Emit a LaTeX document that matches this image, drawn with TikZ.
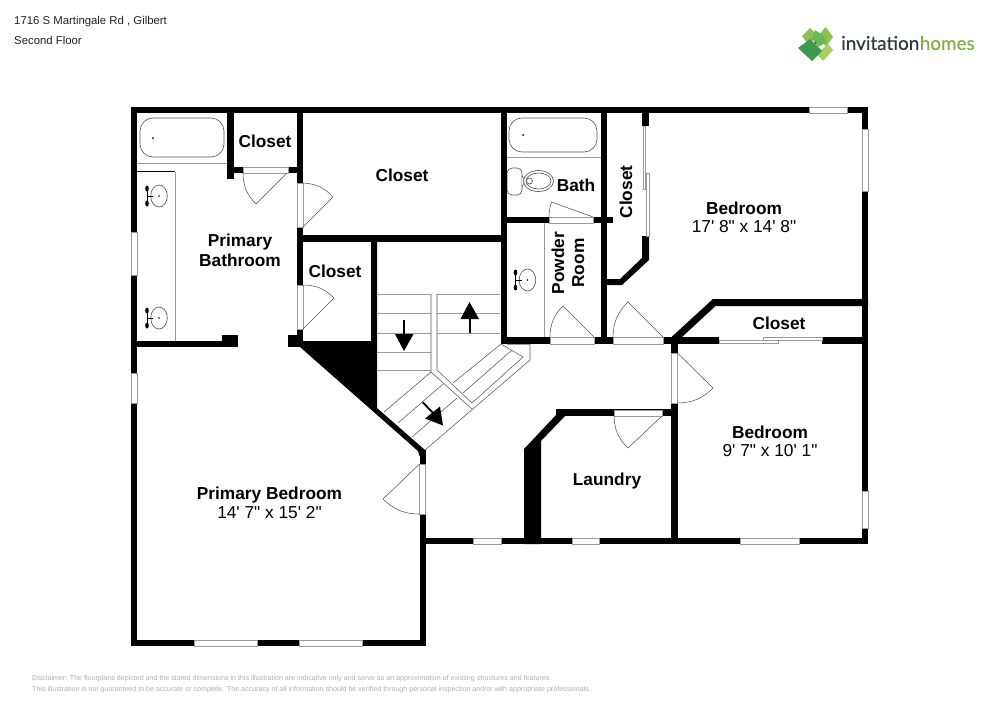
\documentclass[tikz,border=0pt]{standalone}
\usepackage{fontspec}
\newfontfamily\plainfont{Liberation Sans}
\setmainfont{Liberation Sans}
\newfontfamily\logofont[FakeBold=0.35]{Lato}
\definecolor{greyline}{HTML}{9A9A9A}
\definecolor{fineline}{HTML}{555555}
\definecolor{disc}{HTML}{ABAFBC}
\definecolor{headtxt}{HTML}{222222}
\definecolor{lg}{HTML}{8CC152}
\definecolor{lg2}{HTML}{A5CF5F}
\definecolor{mg}{HTML}{6DB65B}
\definecolor{dg}{HTML}{3C9A4A}
\definecolor{logogrey}{HTML}{2E3A36}
\definecolor{logogreen}{HTML}{7DB144}
\tikzset{
  wall/.style={fill=black,draw=none},
  opening/.style={fill=white,draw=greyline,line width=0.6pt},
  fine/.style={draw=fineline,line width=0.55pt},
  fixture/.style={draw=fineline,line width=0.65pt,fill=white},
  grey/.style={draw=greyline,line width=0.7pt},
  stair/.style={draw=fineline,line width=0.55pt},
  room/.style={font=\fontsize{17.3}{20}\selectfont\bfseries,align=center,text=black,inner sep=0pt},
  size/.style={font=\plainfont\fontsize{17.3}{20}\selectfont,align=center,text=black,inner sep=0pt},
  head/.style={font=\fontsize{11.35}{13}\selectfont,anchor=west,text=headtxt,inner sep=0pt},
  disclaimer/.style={font=\fontsize{7.1}{8}\selectfont,anchor=west,text=disc,inner sep=0pt},
  archead/.style={fill=black,draw=none},
}
\newcommand{\sinkat}[2]{%
  \draw[fixture] (#1,#2) ellipse[x radius=8.3,y radius=11];
  \fill (#1,#2) circle[radius=0.9];
  \draw[black,line width=0.9pt] (#1-12,#2)--(#1-6,#2);
  \draw[black,line width=0.9pt] (#1-12,#2-7)--(#1-12,#2+7);
  \fill (#1-12,#2-7.5) ellipse[x radius=1.8,y radius=3];
  \fill (#1-12,#2+7.5) ellipse[x radius=1.8,y radius=3];
}
\begin{document}
\begin{tikzpicture}[x=1pt,y=-1pt]
\useasboundingbox (0,0) rectangle (1000,707);
\fill[white] (0,0) rectangle (1000,707);
% stairs
\foreach \y in {294,313,333,352,370}{\draw[stair,draw=greyline] (377,\y)--(431,\y);}
\foreach \y in {294,313,333}{\draw[stair,draw=greyline] (437,\y)--(500,\y);}
\draw[stair] (431,294)--(431,372)--(472,409);
\draw[stair] (437,294)--(437,370)--(472,403)--(523,357)--(501,344);
\draw[stair] (530,344)--(530,360)--(425,450);
\draw[stair] (512,350)--(463,393);
\draw[stair] (501,344)--(453,383);
\draw[stair] (431,372)--(384,412);
\draw[stair] (443,384)--(398,423);
\draw[stair] (457,398)--(412,437);
\draw[stair,draw=greyline] (507,344)--(530,344);
% fixtures
\draw[fixture,rounded corners=13pt] (140,118) rectangle (224,157);
\fill (153,138) circle[radius=1];
\draw[grey] (137,163)--(227,163);
\draw[black,line width=0.8pt] (137,171.6)--(175,171.6);
\draw[grey] (175,171.6)--(175,341);
\sinkat{159}{196}
\sinkat{159}{318}
\draw[fixture,rounded corners=13pt] (509,118) rectangle (597,152);
\fill (523,135) circle[radius=1];
\draw[grey] (507,157)--(601,157);
\draw[fixture,rounded corners=5pt] (507,168) rectangle (522,195);
\draw[fixture] (522,176)--(525,181)--(522,187);
\draw[fixture] (538.5,181) ellipse[x radius=15,y radius=10.5];
\draw[fixture] (538.5,181) ellipse[x radius=12.5,y radius=8];
\draw[fixture] (529.5,181) circle[radius=3];
\draw[grey] (544,223)--(544,337);
\sinkat{527.5}{280}
% walls
\fill[wall] (131,107) rectangle (868,113);
\fill[wall] (131,107) rectangle (137,646);
\fill[wall] (131,640) rectangle (426,646);
\fill[wall] (419.5,450) rectangle (426,646);
\fill[wall] (862,107) rectangle (868,544);
\fill[wall] (420,538) rectangle (868,544);
\fill[wall] (227,113) rectangle (233.5,179);
\fill[wall] (227,167) rectangle (303,173);
\fill[wall] (297,113) rectangle (303,347);
\fill[wall] (297,235) rectangle (507,242);
\fill[wall] (137,341) rectangle (238,347);
\fill[wall] (222,335) rectangle (238,347);
\fill[wall] (288,335) rectangle (303,347);
\fill[wall] (303,341) -- (371,341) -- (371,242) -- (377,242) -- (377,408) -- (425,450) -- (426,456) -- (419.5,456) -- (418,451) -- (300,347) -- cycle;
\fill[wall] (500.5,113) rectangle (507,344);
\fill[wall] (500.5,337) rectangle (719,344);
\fill[wall] (822,337) rectangle (868,344);
\fill[wall] (500.5,217) rectangle (613,223);
\fill[wall] (601,113) rectangle (607,344);
\fill[wall] (642,113) rectangle (649,126);
\fill[wall] (642,236) -- (649,236) -- (649,260) -- (622,285) -- (607,285) -- (607,279) -- (620,279) -- (642,258) -- cycle;
\fill[wall] (671.5,337) -- (713,299) -- (868,299) -- (868,306) -- (715.5,306) -- (682,337) -- cycle;
\fill[wall] (671,337) rectangle (677.5,544);
\fill[wall] (556,409) rectangle (677,416);
\fill[wall] (556,409) -- (565,416) -- (541,441) -- (541,544) -- (524,544) -- (524,449) -- (556,415) -- cycle;
% door and window openings
\draw[opening] (131,232) rectangle (137,275);
\draw[opening] (131,373) rectangle (137,403);
\draw[opening] (243,167.5) rectangle (288,173);
\draw[opening] (297.5,183) rectangle (303,227);
\draw[opening] (297.5,285) rectangle (303,329);
\draw[opening] (419.5,464) rectangle (425.5,514);
\draw[opening] (194,640) rectangle (257,646);
\draw[opening] (299,640) rectangle (362,646);
\draw[opening] (473,538.5) rectangle (501,544);
\draw[opening] (572,538.5) rectangle (599,544);
\draw[opening] (740,538.5) rectangle (799,544);
\draw[opening] (862.5,491) rectangle (868,528);
\draw[opening] (862.5,129) rectangle (868,191);
\draw[opening] (809,107) rectangle (847,113);
\draw[opening] (549,217.5) rectangle (593,223);
\draw[opening] (550,337.5) rectangle (594,344);
\draw[opening] (613,337.5) rectangle (663,344);
\draw[opening] (671.5,353) rectangle (677.5,403);
\draw[opening] (614,410) rectangle (662,416);
\draw[opening] (643,126) rectangle (645.3,189);
\draw[opening] (646.7,173) rectangle (649,236);
\draw[opening] (719,340) rectangle (778,343.5);
\draw[opening] (763,337) rectangle (822,340);
% door swings
\draw[fine] (287,173)--(256,204) to[bend left=22] (243,173);
\draw[fine] (303,227)--(333,197) to[bend right=22] (303,183);
\draw[fine] (303,329)--(334,298) to[bend right=22] (303,285);
\draw[fine] (419.5,464)--(383,499) to[bend right=22] (419.5,514);
\draw[fine] (593,217)--(551.5,202) to[bend right=8] (549,217);
\draw[fine] (594,337)--(563,306) to[bend right=22] (550,337);
\draw[fine] (663,337)--(628,302) to[bend right=22] (613,337);
\draw[fine] (677.5,353)--(713,388) to[bend left=22] (677.5,403);
\draw[fine] (662,416)--(628,448) to[bend left=22] (614,416);
% stair arrows
\draw[black,line width=1.8pt] (404,320)--(404,336);
\fill[archead] (395,334)--(413.5,334)--(404,351)--cycle;
\draw[black,line width=1.8pt] (470,333)--(470,317);
\fill[archead] (460.5,319)--(479,319)--(469.5,302)--cycle;
\draw[black,line width=1.8pt] (422.7,402.3)--(434,414);
\fill[archead] (425,418.5)--(440,406.5)--(443,425.5)--cycle;
% labels
\node[room] (closetA) at (265,141) {Closet};
\node[room] (closetB) at (402,175) {Closet};
\node[room] (closetC) at (335,271.5) {Closet};
\node[room] (closetD) at (779,323.5) {Closet};
\node[room,rotate=90] (closetE) at (626,192) {Closet};
\node[room] (bath) at (576,185) {Bath};
\node[room,rotate=90] (powder) at (568,263) {Powder\\Room};
\node[room] (pbath) at (240,250) {Primary\\Bathroom};
\node[room] (laundry) at (607,481) {Laundry};
\node[room] (bed1) at (744,208) {Bedroom};
\node[size] (bed1s) at (744,227) {17' 8" x 14' 8"};
\node[room] (bed2) at (770,432) {Bedroom};
\node[size] (bed2s) at (770,451) {9' 7" x 10' 1"};
\node[room] (pbed) at (269.5,495.5) {Primary Bedroom};
\node[size] (pbeds) at (269.5,513) {14' 7" x 15' 2"};
% header
\node[head] (addr) at (14,21.5) {1716 S Martingale Rd , Gilbert};
\node[head] (floor) at (14,40) {Second Floor};
% disclaimer
\node[disclaimer] (d1) at (32,678.5) {Disclaimer: The floorplans depicted and the stated dimensions in this illustration are indicative only and serve as an approximation of existing structures and features.};
\node[disclaimer] (d2) at (32,690) {This illustration is not guaranteed to be accurate or complete. The accuracy of all information should be verified through personal inspection and/or with appropriate professionals.};
% logo
\fill[lg] (810,28)--(818,36)--(808,44)--(802,36)--cycle;
\fill[lg] (825.7,27)--(833,37)--(826,47)--(818,36)--cycle;
\fill[lg2] (828,44)--(833,50)--(823,61)--(817,54)--cycle;
\fill[dg] (798,48)--(810,39)--(822,51)--(812,61)--cycle;
\fill[mg] (815,30)--(823,35)--(827,42)--(818,47)--(812,39)--cycle;
\fill[black!70] (815.5,43) circle[radius=1.2];
\fill[black!60] (806,50) circle[radius=0.5];
\fill[black!60] (815,50) circle[radius=0.5];
\fill[black!60] (812,56) circle[radius=0.5];
\node[font=\logofont\fontsize{18.9}{20}\selectfont,anchor=west,text=logogrey,inner sep=0pt] (logoa) at (841,43) {invitation};
\node[font=\logofont\fontsize{18.9}{20}\selectfont,anchor=west,text=logogreen,inner sep=0pt] (logob) at (logoa.east) {homes};
\end{tikzpicture}
\end{document}
